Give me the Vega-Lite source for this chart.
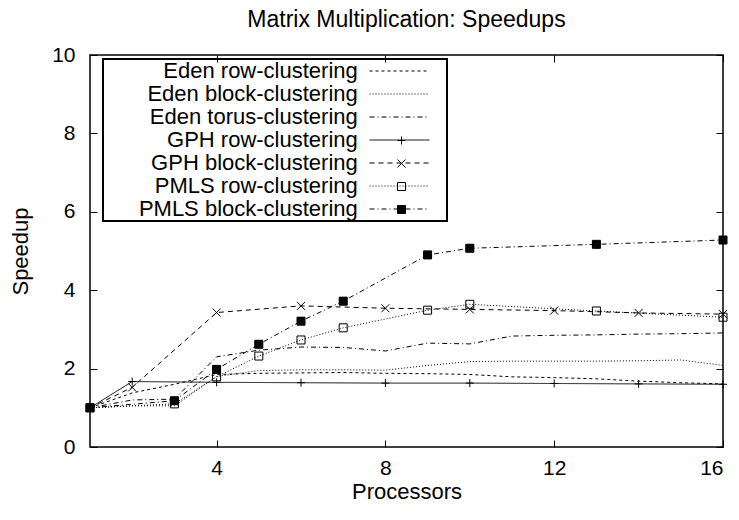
{
  "$schema": "https://vega.github.io/schema/vega-lite/v6.json",
  "width": 633,
  "height": 392,
  "autosize": {"type": "none"},
  "padding": {"left": 90, "top": 55, "right": 16, "bottom": 73},
  "title": {"text": "Matrix Multiplication: Speedups", "font": "Liberation Sans", "fontSize": 23, "fontWeight": "normal", "color": "black", "anchor": "middle", "offset": 12},
  "data": {"values": [
    {"series": "Eden row-clustering", "p": 1, "s": 1.0},
    {"series": "Eden row-clustering", "p": 2, "s": 1.38},
    {"series": "Eden row-clustering", "p": 3, "s": 1.6},
    {"series": "Eden row-clustering", "p": 4, "s": 1.85},
    {"series": "Eden row-clustering", "p": 5, "s": 1.88},
    {"series": "Eden row-clustering", "p": 6, "s": 1.89},
    {"series": "Eden row-clustering", "p": 7, "s": 1.9},
    {"series": "Eden row-clustering", "p": 8, "s": 1.88},
    {"series": "Eden row-clustering", "p": 9, "s": 1.87},
    {"series": "Eden row-clustering", "p": 10, "s": 1.85},
    {"series": "Eden row-clustering", "p": 11, "s": 1.79},
    {"series": "Eden row-clustering", "p": 12, "s": 1.77},
    {"series": "Eden row-clustering", "p": 13, "s": 1.74},
    {"series": "Eden row-clustering", "p": 14, "s": 1.68},
    {"series": "Eden row-clustering", "p": 15, "s": 1.64},
    {"series": "Eden row-clustering", "p": 16, "s": 1.61},
    {"series": "Eden block-clustering", "p": 1, "s": 1.0},
    {"series": "Eden block-clustering", "p": 2, "s": 1.05},
    {"series": "Eden block-clustering", "p": 3, "s": 1.05},
    {"series": "Eden block-clustering", "p": 4, "s": 1.8},
    {"series": "Eden block-clustering", "p": 5, "s": 1.95},
    {"series": "Eden block-clustering", "p": 6, "s": 1.97},
    {"series": "Eden block-clustering", "p": 7, "s": 1.97},
    {"series": "Eden block-clustering", "p": 8, "s": 1.96},
    {"series": "Eden block-clustering", "p": 9, "s": 2.08},
    {"series": "Eden block-clustering", "p": 10, "s": 2.18},
    {"series": "Eden block-clustering", "p": 11, "s": 2.19},
    {"series": "Eden block-clustering", "p": 12, "s": 2.19},
    {"series": "Eden block-clustering", "p": 13, "s": 2.19},
    {"series": "Eden block-clustering", "p": 14, "s": 2.2},
    {"series": "Eden block-clustering", "p": 15, "s": 2.22},
    {"series": "Eden block-clustering", "p": 16, "s": 2.08},
    {"series": "Eden torus-clustering", "p": 1, "s": 1.0},
    {"series": "Eden torus-clustering", "p": 2, "s": 1.2},
    {"series": "Eden torus-clustering", "p": 3, "s": 1.22},
    {"series": "Eden torus-clustering", "p": 4, "s": 2.3},
    {"series": "Eden torus-clustering", "p": 5, "s": 2.47},
    {"series": "Eden torus-clustering", "p": 6, "s": 2.55},
    {"series": "Eden torus-clustering", "p": 7, "s": 2.54},
    {"series": "Eden torus-clustering", "p": 8, "s": 2.45},
    {"series": "Eden torus-clustering", "p": 9, "s": 2.65},
    {"series": "Eden torus-clustering", "p": 10, "s": 2.63},
    {"series": "Eden torus-clustering", "p": 11, "s": 2.83},
    {"series": "Eden torus-clustering", "p": 12, "s": 2.85},
    {"series": "Eden torus-clustering", "p": 13, "s": 2.86},
    {"series": "Eden torus-clustering", "p": 14, "s": 2.88},
    {"series": "Eden torus-clustering", "p": 15, "s": 2.89},
    {"series": "Eden torus-clustering", "p": 16, "s": 2.91},
    {"series": "GPH row-clustering", "p": 1, "s": 1.0},
    {"series": "GPH row-clustering", "p": 2, "s": 1.67},
    {"series": "GPH row-clustering", "p": 4, "s": 1.65},
    {"series": "GPH row-clustering", "p": 6, "s": 1.64},
    {"series": "GPH row-clustering", "p": 8, "s": 1.63},
    {"series": "GPH row-clustering", "p": 10, "s": 1.63},
    {"series": "GPH row-clustering", "p": 12, "s": 1.62},
    {"series": "GPH row-clustering", "p": 14, "s": 1.61},
    {"series": "GPH row-clustering", "p": 16, "s": 1.6},
    {"series": "GPH block-clustering", "p": 1, "s": 1.0},
    {"series": "GPH block-clustering", "p": 2, "s": 1.52},
    {"series": "GPH block-clustering", "p": 4, "s": 3.43},
    {"series": "GPH block-clustering", "p": 6, "s": 3.6},
    {"series": "GPH block-clustering", "p": 8, "s": 3.54},
    {"series": "GPH block-clustering", "p": 10, "s": 3.51},
    {"series": "GPH block-clustering", "p": 12, "s": 3.48},
    {"series": "GPH block-clustering", "p": 14, "s": 3.42},
    {"series": "GPH block-clustering", "p": 16, "s": 3.39},
    {"series": "PMLS row-clustering", "p": 1, "s": 1.0},
    {"series": "PMLS row-clustering", "p": 3, "s": 1.1},
    {"series": "PMLS row-clustering", "p": 4, "s": 1.79},
    {"series": "PMLS row-clustering", "p": 5, "s": 2.32},
    {"series": "PMLS row-clustering", "p": 6, "s": 2.73},
    {"series": "PMLS row-clustering", "p": 7, "s": 3.04},
    {"series": "PMLS row-clustering", "p": 9, "s": 3.49},
    {"series": "PMLS row-clustering", "p": 10, "s": 3.64},
    {"series": "PMLS row-clustering", "p": 13, "s": 3.47},
    {"series": "PMLS row-clustering", "p": 16, "s": 3.31},
    {"series": "PMLS block-clustering", "p": 1, "s": 1.0},
    {"series": "PMLS block-clustering", "p": 3, "s": 1.18},
    {"series": "PMLS block-clustering", "p": 4, "s": 1.98},
    {"series": "PMLS block-clustering", "p": 5, "s": 2.62},
    {"series": "PMLS block-clustering", "p": 6, "s": 3.21},
    {"series": "PMLS block-clustering", "p": 7, "s": 3.72},
    {"series": "PMLS block-clustering", "p": 9, "s": 4.9},
    {"series": "PMLS block-clustering", "p": 10, "s": 5.07},
    {"series": "PMLS block-clustering", "p": 13, "s": 5.17},
    {"series": "PMLS block-clustering", "p": 16, "s": 5.28}
  ]},
  "layer": [
    {
      "mark": {"type": "line", "color": "black", "strokeWidth": 1},
      "encoding": {
        "x": {"field": "p", "type": "quantitative", "scale": {"domain": [1, 16], "nice": false, "zero": false},
          "axis": {"orient": "bottom", "values": [4, 8, 12, 16], "title": "Processors", "grid": false, "domain": false, "tickSize": -7, "labelPadding": 17, "titlePadding": 3}},
        "y": {"field": "s", "type": "quantitative", "scale": {"domain": [0, 10], "nice": false, "zero": false},
          "axis": {"orient": "left", "values": [0, 2, 4, 6, 8, 10], "title": "Speedup", "grid": false, "domain": false, "tickSize": -7, "labelPadding": 22, "titlePadding": 19}},
        "strokeDash": {"field": "series", "type": "nominal",
          "scale": {
            "domain": ["Eden row-clustering", "Eden block-clustering", "Eden torus-clustering", "GPH row-clustering", "GPH block-clustering", "PMLS row-clustering", "PMLS block-clustering"],
            "range": [[3, 3], [1, 2], [5, 3, 1, 3], [1, 0], [5, 4], [1, 2], [5, 3, 1, 3]]
          },
          "legend": {
            "orient": "none", "legendX": 13, "legendY": 4, "direction": "vertical",
            "title": "\u00a0", "titleOrient": "right", "titleFontSize": 22, "titlePadding": 14, "titleFont": "Liberation Sans",
            "padding": 1, "rowPadding": 1,
            "symbolType": "M-4,0L4,0", "symbolSize": 225, "symbolStrokeColor": "black", "symbolStrokeWidth": 1,
            "symbolOffset": 284.5, "labelOffset": -52.75, "labelAlign": "right", "labelLimit": 400,
            "labelFont": "Liberation Sans", "labelFontSize": 22, "labelColor": "black",
            "strokeColor": "black"
          }
        }
      }
    },
    {
      "transform": [{"filter": "indexof(datum.series, 'Eden') < 0"}],
      "mark": {"type": "point", "size": 64, "stroke": "black", "strokeWidth": 1, "opacity": 1},
      "encoding": {
        "x": {"field": "p", "type": "quantitative", "scale": {"domain": [1, 16], "nice": false, "zero": false}, "axis": null},
        "y": {"field": "s", "type": "quantitative", "scale": {"domain": [0, 10], "nice": false, "zero": false}, "axis": null},
        "shape": {"field": "series", "type": "nominal",
          "scale": {
            "domain": ["Eden row-clustering", "Eden block-clustering", "Eden torus-clustering", "GPH row-clustering", "GPH block-clustering", "PMLS row-clustering", "PMLS block-clustering"],
            "range": ["M0,0", "M0,0", "M0,0", "M-1,0L1,0M0,-1L0,1", "M-1,-1L1,1M-1,1L1,-1", "M-1,-1L1,-1L1,1L-1,1Z", "M-1,-1L1,-1L1,1L-1,1Z M-1,-0.875L1,-0.875 M-1,-0.75L1,-0.75 M-1,-0.625L1,-0.625 M-1,-0.5L1,-0.5 M-1,-0.375L1,-0.375 M-1,-0.25L1,-0.25 M-1,-0.125L1,-0.125 M-1,0L1,0 M-1,0.125L1,0.125 M-1,0.25L1,0.25 M-1,0.375L1,0.375 M-1,0.5L1,0.5 M-1,0.625L1,0.625 M-1,0.75L1,0.75 M-1,0.875L1,0.875"]
          },
          "legend": {
            "orient": "none", "legendX": 13, "legendY": 4, "direction": "vertical", "title": null,
            "padding": 1, "clipHeight": 23, "rowPadding": 0,
            "symbolSize": 64, "symbolStrokeColor": "black", "symbolStrokeWidth": 1, "symbolFillColor": "transparent",
            "symbolOffset": 293, "labelExpr": "''", "labelFontSize": 1
          }
        }
      }
    },
    {
      "mark": {"type": "point", "opacity": 0},
      "encoding": {
        "x": {"field": "p", "type": "quantitative", "scale": {"domain": [1, 16], "nice": false, "zero": false},
          "axis": {"orient": "top", "values": [4, 8, 12, 16], "labels": false, "title": null, "grid": false, "domain": false, "tickSize": -7}},
        "y": {"field": "s", "type": "quantitative", "scale": {"domain": [0, 10], "nice": false, "zero": false},
          "axis": {"orient": "right", "values": [0, 2, 4, 6, 8, 10], "labels": false, "title": null, "grid": false, "domain": false, "tickSize": -7}}
      }
    }
  ],
  "resolve": {
    "axis": {"x": "independent", "y": "independent"},
    "legend": {"strokeDash": "independent", "shape": "independent"}
  },
  "config": {
    "view": {"stroke": "black", "strokeWidth": 1.5},
    "axis": {
      "labelFont": "Liberation Sans", "labelFontSize": 21, "labelColor": "black",
      "titleFont": "Liberation Sans", "titleFontSize": 22, "titleFontWeight": "normal", "titleColor": "black",
      "tickColor": "black", "tickWidth": 1
    },
    "legend": {"strokeWidth": 2}
  }
}
